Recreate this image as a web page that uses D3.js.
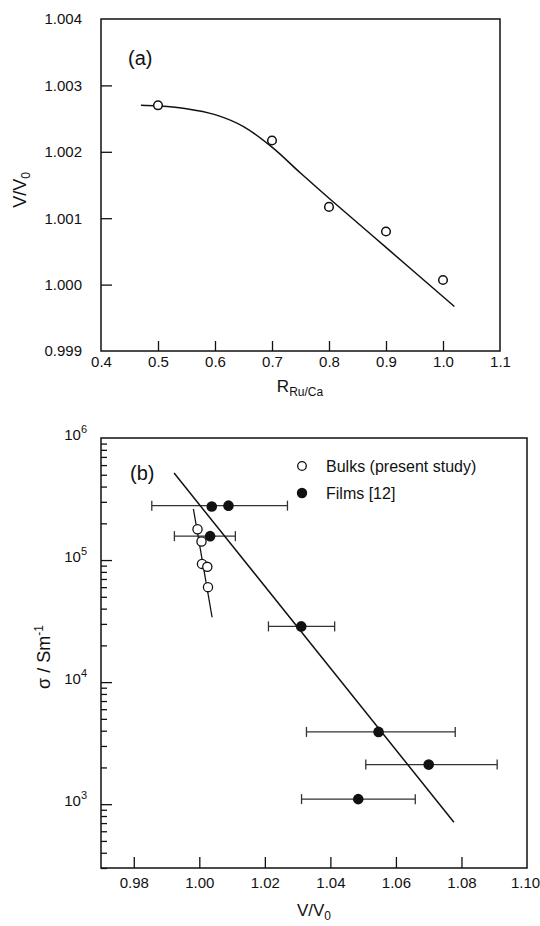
<!DOCTYPE html>
<html>
<head>
<meta charset="utf-8">
<script src="https://cdn.jsdelivr.net/npm/d3@7"></script>
<style>
  body { margin: 0; background: #fff; }
  svg { display: block; }
  text { font-family: "Liberation Sans", Arial, Helvetica, sans-serif; fill: #111; }
</style>
</head>
<body>
<svg id="fig" width="540" height="926"></svg>
<script>
// ---- Panel (a): relative cell volume against Ru/Ca ratio ----
const ratioR = [0.5, 0.7, 0.8, 0.9, 1.0];
const volA   = [1.00270, 1.00217, 1.00117, 1.00080, 1.00007];
// guide curve through the (a) data
const curveR = [0.47, 0.50, 0.55, 0.60, 0.65, 0.70, 0.75, 0.80, 0.90, 1.02];
const curveV = [1.00270, 1.00269, 1.00265, 1.00256, 1.00238, 1.00207, 1.00168, 1.00130, 1.00056, 0.99967];
const ticksAx = [0.4, 0.5, 0.6, 0.7, 0.8, 0.9, 1.0, 1.1];
const ticksAy = [0.999, 1.000, 1.001, 1.002, 1.003, 1.004];

// ---- Panel (b): conductivity against relative volume ----
const bulkV = [0.99945, 1.00067, 1.00082, 1.00244, 1.00265];
const bulkS = [1.79e5, 1.42e5, 9.3e4, 8.8e4, 6.0e4];
const filmV = [1.0038, 1.0089, 1.0033, 1.0311, 1.0547, 1.0700, 1.0485];
const filmS = [2.75e5, 2.79e5, 1.57e5, 2.86e4, 3.91e3, 2.11e3, 1.10e3];
const filmLo = [null, 0.9855, 0.9924, 1.0211, 1.0327, 1.0508, 1.0312];
const filmHi = [null, 1.0269, 1.0110, 1.0413, 1.0781, 1.0909, 1.0659];
const bulkFitV = [0.9982, 1.0039];
const bulkFitS = [2.62e5, 3.4e4];
const filmFitV = [0.9923, 1.0777];
const filmFitS = [5.16e5, 711];
const ticksBx = [0.98, 1.00, 1.02, 1.04, 1.06, 1.08, 1.10];
const ticksBy = [1e3, 1e4, 1e5, 1e6];
const legendLabels = ["Bulks (present study)", "Films [12]"];

const svg = d3.select("#fig");
svg.append("rect").attr("width", 540).attr("height", 926).attr("fill", "#fff");

const INK = "#111";
const FS = 15;

function frame(g, x, y) {
  const [x0, x1] = x.range(), [y0, y1] = y.range();
  g.append("rect")
    .attr("x", x0).attr("y", y1).attr("width", x1 - x0).attr("height", y0 - y1)
    .attr("fill", "none").attr("stroke", INK).attr("stroke-width", 1.5);
}

function styleAxis(sel) {
  sel.select(".domain").remove();
  sel.selectAll(".tick line").attr("stroke", INK).attr("stroke-width", 1.3);
  sel.selectAll(".tick text").attr("font-size", FS).attr("fill", INK)
     .attr("font-family", '"Liberation Sans", Arial, sans-serif');
}

// ================= Panel (a) =================
{
  const x = d3.scaleLinear().domain([0.4, 1.1]).range([101, 500]);
  const y = d3.scaleLinear().domain([0.999, 1.004]).range([351, 19]);
  const g = svg.append("g");

  g.append("g").attr("transform", `translate(0,${y.range()[0]})`)
    .call(d3.axisBottom(x).tickValues(ticksAx).tickSize(-10).tickPadding(5).tickFormat(d3.format(".1f")))
    .call(styleAxis)
    .call(s => s.selectAll(".tick line").filter(d => d === 0.4 || d === 1.1).remove());

  g.append("g").attr("transform", `translate(${x.range()[0]},0)`)
    .call(d3.axisLeft(y).tickValues(ticksAy).tickSize(-11).tickPadding(19).tickFormat(d3.format(".3f")))
    .call(styleAxis)
    .call(s => s.selectAll(".tick line").filter(d => d === 0.999 || d === 1.004).remove());

  frame(g, x, y);

  const line = d3.line().x(d => x(d[0])).y(d => y(d[1])).curve(d3.curveCatmullRom.alpha(0.5));
  g.append("path").datum(d3.zip(curveR, curveV)).attr("d", line)
    .attr("fill", "none").attr("stroke", INK).attr("stroke-width", 1.5);

  g.selectAll("circle.pt").data(d3.zip(ratioR, volA)).join("circle")
    .attr("class", "pt").attr("cx", d => x(d[0])).attr("cy", d => y(d[1])).attr("r", 4.3)
    .attr("fill", "#fff").attr("stroke", INK).attr("stroke-width", 1.5);

  g.append("text").attr("x", 128).attr("y", 65).attr("font-size", 20).text("(a)");

  const xl = g.append("text").attr("x", 300).attr("y", 392).attr("text-anchor", "middle").attr("font-size", 17);
  xl.append("tspan").text("R");
  xl.append("tspan").attr("font-size", 12).attr("dy", 4).text("Ru/Ca");

  const yl = g.append("text").attr("transform", "translate(26,190) rotate(-90)")
    .attr("text-anchor", "middle").attr("font-size", 18);
  yl.append("tspan").text("V/V");
  yl.append("tspan").attr("font-size", 12).attr("dy", 4).text("0");
}

// ================= Panel (b) =================
{
  const x = d3.scaleLinear().domain([0.97, 1.10]).range([101, 527]);
  const y = d3.scaleLog().domain([300, 1e6]).range([868, 438]);
  const g = svg.append("g");

  const xAx = g.append("g").attr("transform", `translate(0,${y.range()[0]})`)
    .call(d3.axisBottom(x).tickValues(ticksBx).tickSize(-11).tickPadding(9).tickFormat(d3.format(".2f")))
    .call(styleAxis);
  xAx.selectAll(".tick line").filter(d => Math.abs(d - 1.10) < 1e-9).remove();
  xAx.selectAll(".tick text").filter(d => Math.abs(d - 1.10) < 1e-9).attr("dx", -2);

  const minor = y.ticks().filter(v => !ticksBy.includes(v));
  g.append("g").attr("transform", `translate(${x.range()[0]},0)`)
    .call(d3.axisLeft(y).tickValues(minor).tickSize(-6).tickFormat(() => ""))
    .call(styleAxis);

  const yAx = g.append("g").attr("transform", `translate(${x.range()[0]},0)`)
    .call(d3.axisLeft(y).tickValues(ticksBy).tickSize(-11).tickFormat(() => ""))
    .call(styleAxis);
  yAx.selectAll(".tick line").filter(d => d === 1e6).remove();
  yAx.selectAll(".tick").each(function (d) {
    const t = d3.select(this).append("text").attr("x", -14).attr("y", 1)
      .attr("text-anchor", "end").attr("font-size", FS).attr("fill", INK);
    t.append("tspan").text("10");
    t.append("tspan").attr("font-size", 11).attr("dy", -7).text(String(Math.round(Math.log10(d))));
  });

  frame(g, x, y);

  // error bars (films)
  const eb = g.append("g").attr("stroke", "#333").attr("stroke-width", 1.3);
  filmV.forEach((v, i) => {
    if (filmLo[i] == null) return;
    const yy = y(filmS[i]);
    eb.append("line").attr("x1", x(filmLo[i])).attr("x2", x(filmHi[i])).attr("y1", yy).attr("y2", yy);
    [filmLo[i], filmHi[i]].forEach(e => {
      eb.append("line").attr("x1", x(e)).attr("x2", x(e)).attr("y1", yy - 5).attr("y2", yy + 5);
    });
  });

  // fit lines
  const line = d3.line().x(d => x(d[0])).y(d => y(d[1]));
  g.append("path").datum(d3.zip(filmFitV, filmFitS)).attr("d", line)
    .attr("fill", "none").attr("stroke", INK).attr("stroke-width", 1.5);
  g.append("path").datum(d3.zip(bulkFitV, bulkFitS)).attr("d", line)
    .attr("fill", "none").attr("stroke", INK).attr("stroke-width", 1.3);

  g.selectAll("circle.film").data(d3.zip(filmV, filmS)).join("circle")
    .attr("class", "film").attr("cx", d => x(d[0])).attr("cy", d => y(d[1])).attr("r", 5.3)
    .attr("fill", INK);

  g.selectAll("circle.bulk").data(d3.zip(bulkV, bulkS)).join("circle")
    .attr("class", "bulk").attr("cx", d => x(d[0])).attr("cy", d => y(d[1])).attr("r", 4.6)
    .attr("fill", "#fff").attr("stroke", INK).attr("stroke-width", 1.3);

  // legend
  const lg = g.append("g");
  lg.append("circle").attr("cx", 302).attr("cy", 466).attr("r", 4.3)
    .attr("fill", "#fff").attr("stroke", INK).attr("stroke-width", 1.3);
  lg.append("circle").attr("cx", 302).attr("cy", 493).attr("r", 5.2).attr("fill", INK);
  lg.selectAll("text").data(legendLabels).join("text")
    .attr("x", 326).attr("y", (d, i) => 472 + i * 27).attr("font-size", 16).text(d => d);

  g.append("text").attr("x", 130).attr("y", 480).attr("font-size", 20).text("(b)");

  const xl = g.append("text").attr("x", 314).attr("y", 916).attr("text-anchor", "middle").attr("font-size", 17);
  xl.append("tspan").text("V/V");
  xl.append("tspan").attr("font-size", 12).attr("dy", 4).text("0");

  const yl = g.append("text").attr("transform", "translate(50,657) rotate(-90)")
    .attr("text-anchor", "middle").attr("font-size", 18);
  yl.append("tspan").text("σ / Sm");
  yl.append("tspan").attr("font-size", 12).attr("dy", -7).text("-1");
}
</script>
</body>
</html>
